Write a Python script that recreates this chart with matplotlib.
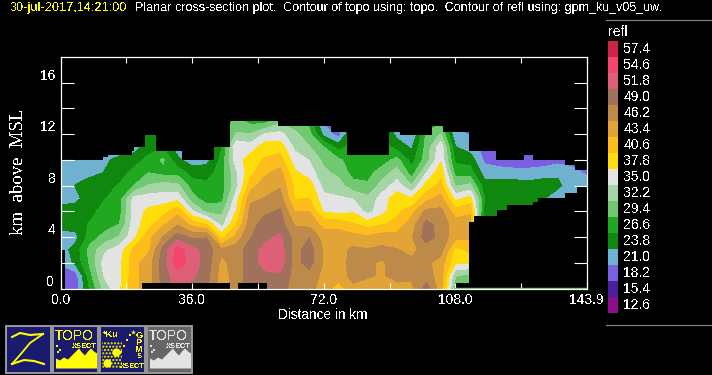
import numpy as np
import matplotlib
matplotlib.use('Agg')
import matplotlib.pyplot as plt
from matplotlib.colors import ListedColormap
from matplotlib.patches import Rectangle
from matplotlib.path import Path

plt.rcParams['font.family'] = ['Liberation Sans', 'DejaVu Sans']
plt.rcParams['text.antialiased'] = False

band_labels = [12.6, 15.4, 18.2, 21.0, 23.8, 26.6, 29.4, 32.2, 35.0, 37.8,
               40.6, 43.4, 46.2, 49.0, 51.8, 54.6, 57.4]
band_colors = ['#8B0E8B', '#4B1E9E', '#7A5FE0', '#70B0D0', '#108810', '#20A820',
               '#70C870', '#A5D4A5', '#E3E3E3', '#FFDD0A', '#FDBE1C', '#E2A436',
               '#BE8A4A', '#A0725C', '#DE6078', '#F4456E', '#CC2444']

distance_km = list(range(0, 148, 4))
height_km = list(range(0, 14))

# one list per distance, from 0 km up to 13 km
refl = [
    [18, 18, 20, 21, 21, 23.8, 23.8, 21, 21, 21, 21, 21, 21, 21],
    [18, 18, 23, 23.5, 21.5, 23.5, 24, 21.5, 22.5, 21, 21, 21, 21, 21],
    [25.5, 27, 28.5, 29, 26.6, 25.5, 24, 24, 24, 21.5, 21, 21, 21, 21],
    [32, 34, 35, 33, 29, 26.6, 26.6, 25, 24, 22.5, 22, 21, 21, 21],
    [35.8, 35.5, 35.5, 35, 31, 28, 26.6, 26.6, 25.5, 24, 23, 21, 21, 21],
    [41, 41, 41, 40, 35.5, 35, 35, 34.5, 28, 26, 24, 21, 21, 21],
    [43.4, 43.4, 43.4, 41.5, 41, 38, 37, 35, 31, 28, 26, 24, 24, 24],
    [48, 49, 49, 48.5, 45, 41.5, 38, 35, 32, 27, 28.5, 25, 24, 24],
    [51.5, 52, 54.8, 54.6, 49, 44.5, 41, 35.5, 31.5, 27, 23, 21, 21, 21],
    [49, 51, 52, 51.5, 47, 41, 34, 29, 26.6, 24, 21, 21, 21, 21],
    [48, 48.5, 49, 49, 47.5, 39, 30, 26.5, 26, 24, 21.5, 21, 21, 21],
    [43.5, 43.5, 44, 45.5, 38, 32.5, 30, 27, 26.6, 26.6, 26, 25, 25, 25],
    [46, 46, 46, 46.3, 43, 39, 36.5, 35, 32.5, 33, 35, 36, 31, 29.4],
    [49, 49, 49, 49, 47.5, 46.5, 46, 44, 41, 38.5, 38, 35, 31, 27],
    [49, 49.5, 51.8, 51.5, 49.5, 49, 47, 45, 43.5, 41.5, 39.5, 38, 34, 27],
    [49, 50, 52, 52, 51, 49, 48, 46, 44.5, 43, 40.5, 38, 34.5, 30],
    [46.2, 46.5, 46.5, 46.5, 46.5, 44.5, 42, 39, 38.5, 37, 35, 33, 31.5, 29],
    [46, 46.5, 48.8, 49, 47.5, 44, 42, 39.2, 38, 35, 33.5, 31, 29, 27],
    [43, 44, 44.5, 44.5, 43.5, 41, 36, 34.5, 32.5, 31.5, 30, 28, 21.5, 19],
    [41, 43, 43.4, 43.4, 43.4, 41, 35.5, 34, 32, 30, 28.5, 24, 18.5, 18],
    [44, 46, 46, 45.5, 43, 39.5, 36, 33.5, 29, 27, 26.6, 26.5, 26, 26],
    [44, 45, 45, 45, 42.5, 38, 32.5, 31.5, 28.5, 27, 26.6, 26.5, 26, 26],
    [44, 44.6, 44.6, 45.5, 43.4, 39, 35.5, 35, 32, 29.5, 26.6, 26.5, 26, 26],
    [44, 45.5, 45.5, 45, 43, 40, 38.5, 38, 35, 32, 29, 24, 21.5, 20],
    [44, 45.5, 45.5, 44, 44.5, 43.4, 41, 36.5, 31, 26.6, 24, 22, 19, 19],
    [49, 46, 45.5, 46, 49, 48.5, 45.5, 41, 37.5, 33.5, 29.5, 29, 28.5, 26],
    [43, 43.5, 43.5, 46, 46.5, 46.5, 45.5, 43, 40, 38.5, 36, 35.5, 31, 27],
    [29, 31, 37, 38, 43.2, 43.4, 40.5, 35.5, 30.5, 27, 24.5, 22.5, 20, 19],
    [29, 30, 36.5, 40, 42.5, 43.4, 41.5, 37.5, 31.5, 26.6, 24, 21, 19.5, 19],
    [21, 21, 21, 21, 21, 21, 23.5, 25, 23.5, 21, 19, 18.5, 18.5, 18.5],
    [21, 21, 21, 21, 21, 21, 23, 24, 23.8, 21, 18, 18, 18, 18],
    [21, 21, 21, 21, 21, 21, 21, 24, 24, 20.5, 18, 18, 18, 18],
    [21, 21, 21, 21, 21, 21, 21, 24, 23.5, 20.5, 18, 18, 18, 18],
    [21, 21, 21, 21, 21, 21, 21, 22.6, 24, 21, 18, 18, 18, 18],
    [21, 21, 21, 21, 21, 21, 21, 21, 22.9, 22, 18.5, 18, 18, 18],
    [21, 21, 21, 21, 21, 21, 21, 21, 21, 21, 18, 18, 18, 18],
    [21, 21, 21, 21, 21, 21, 21, 21, 21, 19, 18, 18, 18, 18],
]

# echo top and echo base, constant between the edges
top_edges = [0, 11.6, 13, 19.5, 20, 23, 26, 33.2, 42, 46.3, 52.6, 55.1, 59.5, 74, 78.3,
             89.8, 92.8, 101.6, 104.6, 111.7, 119.1, 126.8, 129.2, 138, 140.7, 143.9]
top_km = [10, 10.2, 10.4, 10.7, 11, 11.9, 10.7, 10, 11, 13, 13.3, 13, 12.6, 12.2, 10.4,
          12.2, 11.9, 12.6, 12.2, 10.7, 10, 10.4, 10, 9.6, 9.2]
base_edges = [0, 1.2, 22.3, 46.3, 48.5, 56.4, 108, 111.7, 113, 119.4, 122, 129.3,
              130.7, 138, 141.3, 143.9]
base_km = [3, 0, 0.4, 0, 0.4, 0, 0.4, 5.2, 5.6, 6.1, 6.5, 6.7, 7, 7.4, 7.9]

strip_x = [108, 143.9]
strip_km = [0.06, 0.06]

x_ticks = [0, 18, 36, 54, 72, 90, 108, 126, 143.9]
x_tick_labels = ['0.0', '', '36.0', '', '72.0', '', '108.0', '', '143.9']
y_ticks = [2, 4, 6, 8, 10, 12, 14, 16]
y_tick_labels = ['', '4', '', '8', '', '12', '', '16']

# ridge outline of the TOPO buttons
ridge_x = [0, 4, 8, 12, 16, 20, 23, 26, 29, 32, 35, 38, 41]
ridge_y = [10, 8, 11, 9, 13, 17, 20, 16, 13, 17, 20, 17, 15]

W, H = 712, 375
fig = plt.figure(figsize=(W / 100, H / 100), dpi=100, facecolor='black')


def stairs(edges, heights):
    pts = []
    for i, h in enumerate(heights):
        pts.append((edges[i], h))
        pts.append((edges[i + 1], h))
    return pts


ax = fig.add_axes([60.7 / W, (H - 288.5) / H, 526 / W, 231.5 / H], facecolor='black')
levels = [v - 1.4 for v in band_labels] + [band_labels[-1] + 1.4]
cs = ax.contourf(distance_km, height_km, np.array(refl).T, levels=levels,
                 colors=band_colors, antialiased=False)
outline = stairs(top_edges, top_km) + stairs(base_edges, base_km)[::-1]
cs.set_clip_path(Path(outline + [outline[0]]), ax.transData)
ax.plot(strip_x, strip_km, color=band_colors[6], lw=1)

ax.set_xlim(0, 143.9)
ax.set_ylim(0, 18)
ax.set_xticks(x_ticks, x_tick_labels)
ax.set_yticks(y_ticks, y_tick_labels)
ax.text(-0.012, 0, '0', transform=ax.get_yaxis_transform(), color='white', fontsize=10,
        ha='right', va='bottom')
ax.tick_params(axis='x', direction='in', top=True, length=4.3, width=0.8, colors='white',
               labelsize=10, pad=3.2)
ax.tick_params(axis='y', direction='in', right=True, length=9.4, width=0.8, colors='white',
               labelsize=10, pad=3.5)
for lab in ax.get_yticklabels():
    lab.set_va('bottom')
for s in ax.spines.values():
    s.set_color('white')
    s.set_linewidth(0.9)

# everything outside the plot is placed in pixels
page = fig.add_axes([0, 0, 1, 1], facecolor='none')
page.set_xlim(0, W)
page.set_ylim(H, 0)
page.axis('off')

page.text(10, 8.5, '30-jul-2017,14:21:00', color='#FFFF00', fontsize=9.15, va='center')
page.text(135, 8.5, 'Planar cross-section plot.  Contour of topo using: topo.  '
          'Contour of refl using: gpm_ku_v05_uw.', color='white', fontsize=9.03, va='center')
page.text(322.5, 315, 'Distance in km', color='white', fontsize=9.8, ha='center', va='center')
page.text(19, 172, 'km  above  MSL', color='white', fontsize=13.5, rotation=90, ha='center',
          va='center', family='Liberation Serif')

page.plot([606, 712], [19.5, 19.5], color='#808080', lw=0.9)
page.plot([606, 712], [324.5, 324.5], color='#808080', lw=0.9)

# colour scale
page.text(608, 32, 'refl', color='white', fontsize=10, va='center')
scale = fig.add_axes([608 / W, (H - 312.7) / H, 10 / W, 271.7 / H])
scale.pcolormesh(np.array(band_labels).reshape(-1, 1), cmap=ListedColormap(band_colors),
                 antialiased=False)
scale.axis('off')
for i, v in enumerate(band_labels):
    page.text(623.5, 304.7 - i * 16, '%.1f' % v, color='white', fontsize=10, va='center')

# buttons
navy = '#1A1A6E'
yellow = '#FFFF00'
for x0, face in [(5.5, navy), (52.5, navy), (99.5, navy), (146.5, '#666666')]:
    page.add_patch(Rectangle((x0, 325.5), 45, 47, facecolor=face, edgecolor='#9A9A9A', lw=1.4))

page.plot([12, 20, 30, 43], [337, 333, 335, 334], color=yellow, lw=1.5)
page.plot([43, 30, 20, 12], [334, 343, 355, 364], color=yellow, lw=1.3)
page.plot([12, 24, 34, 44], [364, 360, 361, 364], color=yellow, lw=1.5)


def topo_icon(x0, ink):
    page.text(x0 + 22, 335.5, 'TOPO', color=ink, fontsize=10, ha='center', va='center')
    page.text(x0 + 32, 347, 'XSECT', color=ink, fontsize=5.4, ha='center', va='center',
              fontweight='bold')
    xs = [x0 + 3 + v for v in ridge_x]
    ys = [368 - v for v in ridge_y]
    page.fill_between(xs, ys, 368, color=ink, lw=0)
    page.scatter([x0 + 4, x0 + 7, x0 + 5], [346, 350, 352], s=3, marker='s', color=ink, lw=0)


topo_icon(52.5, yellow)
topo_icon(146.5, '#E3E3E3')

page.text(111, 330, '*Ku', color=yellow, fontsize=6.5, ha='center', va='top', fontweight='bold')
for i, ch in enumerate('GPM'):
    page.text(139, 335 + i * 7.5, ch, color=yellow, fontsize=6.5, ha='center', va='center',
              fontweight='bold')
page.text(139, 357, 'S', color=yellow, fontsize=5.5, ha='center', va='center', fontweight='bold')
page.text(132, 366, 'XSECT', color=yellow, fontsize=5.4, ha='center', va='center',
          fontweight='bold')
page.add_patch(Rectangle((102, 342), 20, 26, facecolor='none', edgecolor=yellow, hatch='.....',
                         lw=0))
page.scatter([116, 107], [352, 363], s=35, marker='o', color=yellow, lw=0)
page.scatter([133], [332], s=14, marker='*', color=yellow, lw=0)
page.scatter([121, 124, 127, 130], [352, 346, 340, 335], s=2, marker='s', color=yellow, lw=0)

fig.savefig('out.png', dpi=100, facecolor='black')
